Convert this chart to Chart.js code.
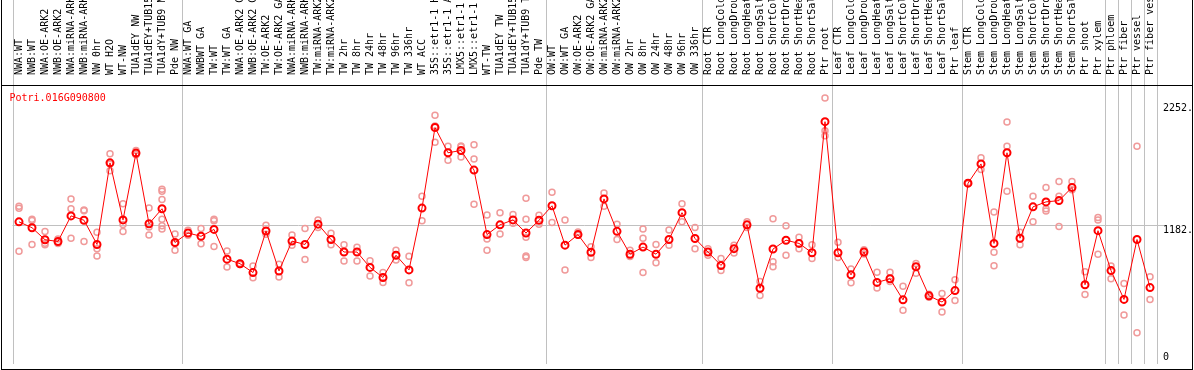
<!DOCTYPE html>
<html>
<head>
<meta charset="utf-8">
<script src="https://cdn.jsdelivr.net/npm/chart.js@4.4.1/dist/chart.umd.min.js"></script>
<style>
  html, body { margin: 0; padding: 0; background: #fff; }
  #chart { display: block; }
</style>
</head>
<body>
<canvas id="chart" width="1194" height="370"></canvas>
<script>
const geneName = 'Potri.016G090800';

const labels = [
  'NWA:WT', 'NWB:WT', 'NWA:OE-ARK2', 'NWB:OE-ARK2', 'NWA:miRNA-ARK2', 'NWB:miRNA-ARK2',
  'NW 0hr', 'WT H2O', 'WT-NW', 'TUA1dEY NW', 'TUA1dEY+TUB15', 'TUA1dY+TUB9 NW', 'Pde NW',
  'NWA:WT GA', 'NWBWT GA', 'TW:WT', 'TW:WT GA', 'NWA:OE-ARK2 GA', 'NWB:OE-ARK2 GA',
  'TW:OE-ARK2', 'TW:OE-ARK2 GA', 'NWA:miRNA-ARK2', 'NWB:miRNA-ARK2', 'TW:miRNA-ARK2',
  'TW:miRNA-ARK2', 'TW 2hr', 'TW 8hr', 'TW 24hr', 'TW 48hr', 'TW 96hr', 'TW 336hr',
  'WT ACC', '35S::etr1-1 H2O', '35S::etr1-1 ACC', 'LMX5::etr1-1 H2O', 'LMX5::etr1-1 ACC',
  'WT-TW', 'TUA1dEY TW', 'TUA1dEY+TUB15', 'TUA1dY+TUB9 TW', 'Pde TW',
  'OW:WT', 'OW:WT GA', 'OW:OE-ARK2', 'OW:OE-ARK2 GA', 'OW:miRNA-ARK2', 'OW:miRNA-ARK2',
  'OW 2hr', 'OW 8hr', 'OW 24hr', 'OW 48hr', 'OW 96hr', 'OW 336hr',
  'Root CTR', 'Root LongCold', 'Root LongDrought', 'Root LongHeat', 'Root LongSalt',
  'Root ShortCold', 'Root ShortDrought', 'Root ShortHeat', 'Root ShortSalt', 'Ptr root',
  'Leaf CTR', 'Leaf LongCold', 'Leaf LongDrought', 'Leaf LongHeat', 'Leaf LongSalt',
  'Leaf ShortCold', 'Leaf ShortDrought', 'Leaf ShortHeat', 'Leaf ShortSalt', 'Ptr leaf',
  'Stem CTR', 'Stem LongCold', 'Stem LongDrought', 'Stem LongHeat', 'Stem LongSalt',
  'Stem ShortCold', 'Stem ShortDrought', 'Stem ShortHeat', 'Stem ShortSalt', 'Ptr shoot',
  'Ptr xylem', 'Ptr phloem', 'Ptr fiber', 'Ptr vessel', 'Ptr fiber vessel',
];

// mean expression per sample (red line)
const means = [
  1213, 1162, 1057, 1042, 1265, 1227, 1016, 1727, 1230, 1812,
  1196, 1327, 1033, 1116, 1087, 1147, 888, 848, 771, 1133,
  785, 1045, 1016, 1193, 1059, 950, 950, 816, 728, 922,
  794, 1333, 2035, 1815, 1835, 1664, 1102, 1187, 1230, 1116,
  1227, 1353, 1010, 1102, 948, 1413, 1130, 931, 993, 931,
  1059, 1293, 1068, 950, 833, 979, 1187, 634, 976, 1053,
  1025, 944, 2086, 944, 751, 950, 685, 717, 533, 822,
  568, 514, 614, 1550, 1718, 1025, 1815, 1070, 1344, 1387,
  1398, 1513, 665, 1136, 788, 537, 1059, 640,
];

// individual replicates (pink circles)
const rep1 = [
  1350, 1235, 1128, 1064, 1413, 1316, 1122, 1806, 1370, 1835,
  1333, 1498, 1107, 1139, 1156, 1235, 959, 852, 828, 1184,
  843, 1098, 1156, 1230, 1113, 1013, 991, 873, 771, 965,
  913, 1436, 2143, 1872, 1875, 1884, 1273, 1293, 1278, 1419,
  1270, 1470, 1230, 1124, 996, 1464, 1193, 965, 1150, 1016,
  1141, 1370, 1164, 979, 893, 1008, 1213, 693, 1241, 1179,
  1079, 1013, 2292, 1036, 802, 970, 773, 773, 651, 850,
  582, 588, 708, 1554, 1772, 1299, 2083, 1122, 1436, 1513,
  1564, 1564, 779, 1250, 828, 676, 1872, 734,
];
const rep2 = [
  1331, 1224, 1027, 1040, 1327, 1310, 979, 1658, 1190, 1806,
  1167, 1479, 1027, 1096, 1021, 1222, 819, 842, 725, 1104,
  732, 1008, 884, 1164, 1013, 871, 871, 742, 685, 880,
  682, 1222, 2049, 1749, 1778, 1761, 1064, 1107, 1201, 1235,
  1193, 1207, 794, 1096, 902, 1350, 1059, 910, 1070, 856,
  1008, 1213, 979, 922, 788, 942, 1164, 571, 865, 922,
  979, 893, 2006, 902, 682, 933, 636, 693, 443, 765,
  556, 428, 528, 1545, 1670, 948, 1872, 1013, 1213, 1327,
  1436, 1492, 580, 1230, 717, 400, 246, 537,
];
const rep3 = [
  957, 1016, 1013, 1025, 1070, 1042, 916, 1718, 1128, 1797,
  1098, 1407, 965, null, null, 999, null, null, null, null,
  null, null, null, null, null, null, null, null, null, null,
  null, null, 1907, null, 1867, 1367, 965, null, null, 1079,
  null, null, null, null, null, null, null, null, 771, null,
  null, null, null, null, null, null, null, null, 822, null,
  null, null, 1963, null, null, null, null, null, null, null,
  null, null, null, null, null, 830, 1479, null, null, 1307,
  1173, null, null, 931, null, null, null, null,
];
// a few samples have more than three replicates
const extraRepIndex = [11, 11, 11, 39, 39];
const extraRepValue = [1235, 1179, 1150, 916, 902];

const yTicks = [0, 1182, 2252];
const yTickLabels = ['0', '1182.', '2252.'];
const gridValue = 1182;
// first sample index of each block (vertical separators)
const groupStarts = [0, 13, 41, 53, 63, 73, 84, 85, 86, 87, 88];

const MONO = '"DejaVu Sans Mono", monospace';
const RED = '#ff0000';
const PINK = '#f09a9a';
const GRID = '#c0c0c0';

function repDataset(data) {
  return {
    data,
    order: 1,
    showLine: false,
    pointRadius: 3,
    pointBorderWidth: 1.5,
    pointBorderColor: PINK,
    pointBackgroundColor: 'rgba(0,0,0,0)',
  };
}

const extraReps = extraRepIndex.map((idx, k) =>
  repDataset(labels.map((_, i) => (i === idx ? extraRepValue[k] : null)))
);

const framePlugin = {
  id: 'frame',
  beforeDatasetsDraw(chart) {
    const { ctx, chartArea, scales } = chart;
    ctx.save();
    ctx.strokeStyle = GRID;
    ctx.lineWidth = 1;
    groupStarts.forEach((g) => {
      const x = Math.round(scales.x.getPixelForValue(g - 0.5)) + 0.5;
      ctx.beginPath();
      ctx.moveTo(x, 0);
      ctx.lineTo(x, chartArea.bottom);
      ctx.stroke();
    });
    ctx.restore();
  },
  afterDraw(chart) {
    const { ctx, chartArea, scales, width, height } = chart;
    ctx.save();
    ctx.strokeStyle = '#000';
    ctx.lineWidth = 1;
    ctx.beginPath();
    ctx.moveTo(1.5, 0);
    ctx.lineTo(1.5, height);
    ctx.moveTo(width - 1.5, 0);
    ctx.lineTo(width - 1.5, height);
    ctx.moveTo(1, chartArea.top - 0.5);
    ctx.lineTo(width - 1, chartArea.top - 0.5);
    ctx.moveTo(1, height - 0.5);
    ctx.lineTo(width - 1, height - 0.5);
    ctx.stroke();

    ctx.font = '10px ' + MONO;
    ctx.textBaseline = 'alphabetic';
    ctx.fillStyle = RED;
    ctx.fillText(geneName, chartArea.left - 3, chartArea.top + 15);

    ctx.fillStyle = '#000';
    yTicks.forEach((v, i) => {
      const y = Math.min(scales.y.getPixelForValue(v) + 8, chartArea.bottom - 4);
      ctx.fillText(yTickLabels[i], chartArea.right + 6.5, y);
    });
    ctx.restore();
  },
};

new Chart(document.getElementById('chart'), {
  type: 'line',
  data: {
    labels,
    datasets: [
      {
        data: means,
        order: 0,
        borderColor: RED,
        borderWidth: 1,
        pointRadius: 3.5,
        pointBorderWidth: 2,
        pointBorderColor: RED,
        pointBackgroundColor: 'rgba(0,0,0,0)',
      },
      repDataset(rep1),
      repDataset(rep2),
      repDataset(rep3),
      ...extraReps,
    ],
  },
  options: {
    responsive: false,
    animation: false,
    devicePixelRatio: 1,
    layout: { padding: { left: 12.5, right: 0, top: 0, bottom: 1 } },
    plugins: {
      legend: { display: false },
      tooltip: { enabled: false },
    },
    scales: {
      x: {
        type: 'category',
        position: 'top',
        offset: true,
        grid: { display: false },
        border: { display: false },
        ticks: {
          autoSkip: false,
          minRotation: 90,
          maxRotation: 90,
          padding: 3,
          labelOffset: 12,
          color: '#000',
          font: { family: MONO, size: 10 },
        },
        afterFit: (scale) => { scale.height = 86; },
      },
      y: {
        position: 'right',
        min: -26,
        max: 2397,
        afterBuildTicks: (scale) => { scale.ticks = yTicks.map((v) => ({ value: v })); },
        grid: {
          color: (c) => (c.tick && c.tick.value === gridValue ? GRID : 'rgba(0,0,0,0)'),
          tickLength: 8,
        },
        border: { display: false },
        ticks: { display: false },
        afterFit: (scale) => { scale.width = 37.5; },
      },
    },
  },
  plugins: [framePlugin],
});
</script>
</body>
</html>
